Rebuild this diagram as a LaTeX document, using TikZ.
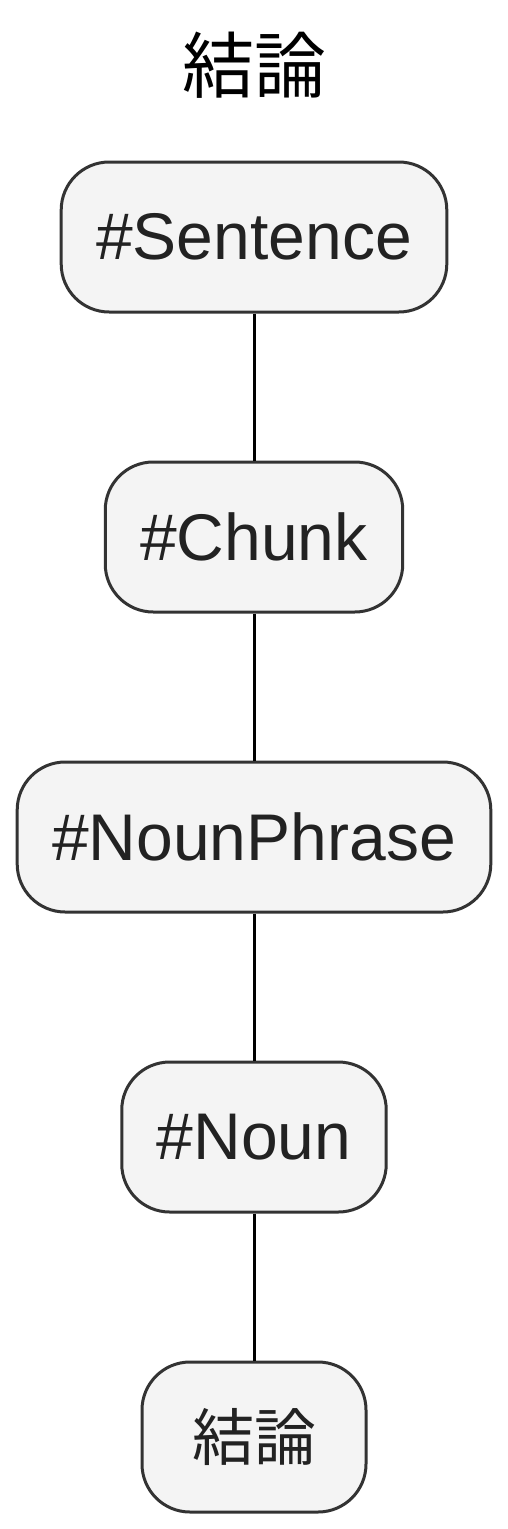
\documentclass[tikz,border=0pt]{standalone}
\usepackage{fontspec}
\setmainfont{Liberation Sans}
\newfontfamily\cjk{Noto Sans CJK JP}
\definecolor{boxfill}{HTML}{F4F4F4}
\definecolor{boxline}{HTML}{333333}
\definecolor{txt}{HTML}{222222}
\begin{document}
\begin{tikzpicture}[x=1pt,y=1pt,
  tag/.style={draw=boxline, fill=boxfill, line width=3pt, rounded corners=48pt,
    minimum height=150pt, inner xsep=35pt, text=txt, font=\fontsize{66}{70}\selectfont},
  link/.style={line width=3pt, black}]
\useasboundingbox (0,0) rectangle (508,-1529);
\node[font=\cjk\fontsize{72}{76}\selectfont, text=black] (title) at (254,-65) {結論};
\node[tag] (s) at (254,-237) {\#Sentence};
\node[tag] (c) at (254,-537) {\#Chunk};
\node[tag] (np) at (254,-837) {\#NounPhrase};
\node[tag] (n) at (254,-1137) {\#Noun};
\node[tag, font=\cjk\fontsize{62}{66}\selectfont, inner xsep=50pt] (w) at (254,-1437) {結論};
\draw[link] (s.south) -- (c.north);
\draw[link] (c.south) -- (np.north);
\draw[link] (np.south) -- (n.north);
\draw[link] (n.south) -- (w.north);
\end{tikzpicture}
\end{document}
